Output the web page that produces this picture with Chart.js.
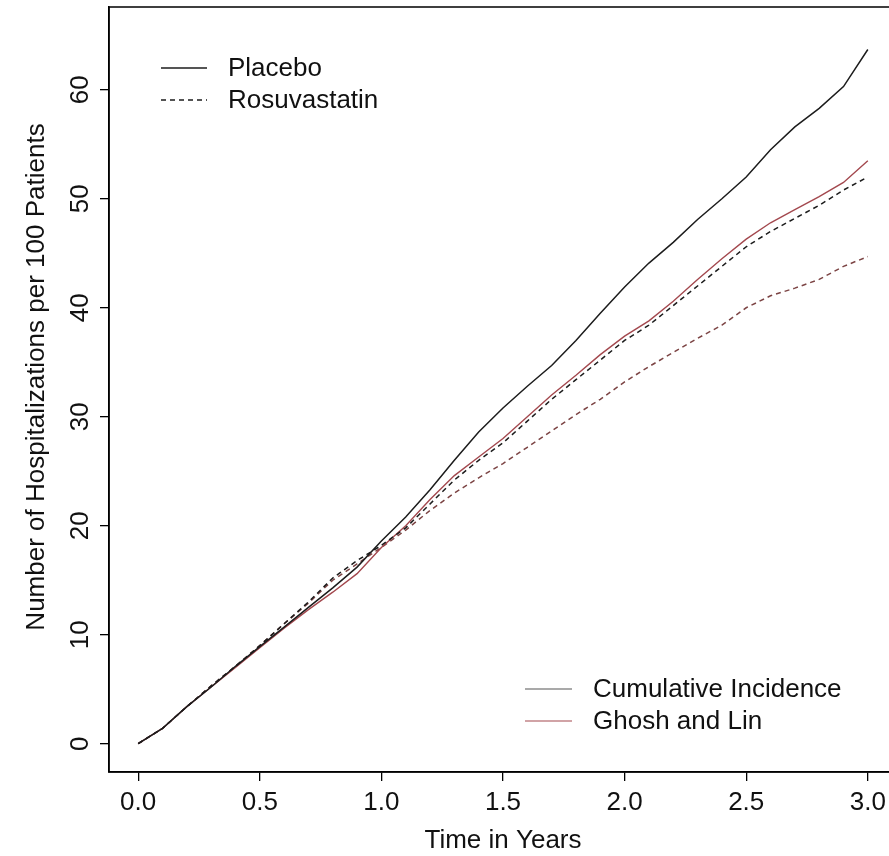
<!DOCTYPE html>
<html>
<head>
<meta charset="utf-8">
<script src="https://cdn.jsdelivr.net/npm/chart.js@4"></script>
<style>
  html, body { margin: 0; padding: 0; background: #fff; overflow: hidden; }
  #wrap { width: 910px; height: 856px; }
</style>
</head>
<body>
<div id="wrap"><canvas id="hospChart" width="910" height="856"></canvas></div>
<script>
// years since randomisation
const years = [0.0, 0.1, 0.2, 0.3, 0.4, 0.5, 0.6, 0.7, 0.8, 0.9, 1.0,
  1.1, 1.2, 1.3, 1.4, 1.5, 1.6, 1.7, 1.8, 1.9, 2.0,
  2.1, 2.2, 2.3, 2.4, 2.5, 2.6, 2.7, 2.8, 2.9, 3.0];

// cumulative incidence
const placeboCI = [0, 1.4, 3.4, 5.2, 7.1, 8.9, 10.7, 12.5, 14.3, 16.2, 18.6,
  20.8, 23.3, 26.0, 28.6, 30.8, 32.8, 34.7, 37.0, 39.5, 41.9,
  44.1, 46.0, 48.1, 50.0, 52.0, 54.5, 56.6, 58.3, 60.3, 63.7];
const rosuvaCI = [0, 1.4, 3.4, 5.3, 7.1, 9.0, 11.0, 13.0, 15.2, 16.8, 18.2,
  19.8, 22.0, 24.2, 26.0, 27.6, 29.6, 31.6, 33.4, 35.2, 37.0,
  38.4, 40.2, 42.0, 43.8, 45.6, 47.0, 48.2, 49.4, 50.8, 52.0];

// Ghosh and Lin
const placeboGL = [0, 1.4, 3.4, 5.2, 7.0, 8.8, 10.6, 12.3, 13.9, 15.6, 18.0,
  20.0, 22.4, 24.6, 26.3, 28.0, 30.0, 32.0, 33.8, 35.7, 37.4,
  38.8, 40.6, 42.6, 44.5, 46.3, 47.8, 49.0, 50.2, 51.5, 53.5];
const rosuvaGL = [0, 1.4, 3.4, 5.3, 7.1, 9.0, 11.0, 12.9, 15.0, 16.5, 18.0,
  19.6, 21.4, 23.0, 24.4, 25.7, 27.2, 28.7, 30.2, 31.6, 33.2,
  34.6, 35.9, 37.2, 38.4, 40.0, 41.1, 41.8, 42.6, 43.8, 44.7];

const xTicks = [0, 0.5, 1.0, 1.5, 2.0, 2.5, 3.0];
const yTicks = [0, 10, 20, 30, 40, 50, 60];

const groupLegend = ['Placebo', 'Rosuvastatin'];
const methodLegend = ['Cumulative Incidence', 'Ghosh and Lin'];
const yTitle = 'Number of Hospitalizations per 100 Patients';

const BLACK = '#1c1c1c';
const RED = '#a3484e';
const RED_DK = '#7c4444';
const DASH = [5, 4];
const FONT = '"Liberation Sans", Arial, sans-serif';

function pts(ys) {
  return years.map((x, i) => ({ x: x, y: ys[i] }));
}

// box around the plot region, y title, and the two legends
const extras = {
  id: 'extras',
  afterDraw(chart) {
    const { ctx, chartArea: a } = chart;
    ctx.save();
    ctx.strokeStyle = '#000';
    ctx.lineWidth = 1.5;
    ctx.setLineDash([]);
    ctx.strokeRect(a.left, a.top, a.right - a.left, a.bottom - a.top);

    ctx.fillStyle = '#111';
    ctx.font = '26px ' + FONT;
    ctx.textBaseline = 'middle';

    // y axis title (rotated)
    ctx.save();
    ctx.translate(37, 377);
    ctx.rotate(-Math.PI / 2);
    ctx.textAlign = 'center';
    ctx.fillText(yTitle, 0, 0);
    ctx.restore();

    // line type legend
    const rows1 = [68, 100];
    groupLegend.forEach((txt, i) => {
      ctx.beginPath();
      ctx.lineWidth = 1.5;
      ctx.strokeStyle = BLACK;
      ctx.setLineDash(i === 0 ? [] : DASH);
      ctx.moveTo(161, rows1[i]);
      ctx.lineTo(207, rows1[i]);
      ctx.stroke();
      ctx.fillText(txt, 228, rows1[i] + 1);
    });

    // method legend
    const rows2 = [689, 721];
    const cols = ['#555', RED];
    ctx.setLineDash([]);
    methodLegend.forEach((txt, i) => {
      ctx.beginPath();
      ctx.lineWidth = 1.2;
      ctx.strokeStyle = cols[i];
      ctx.moveTo(525, rows2[i]);
      ctx.lineTo(572, rows2[i]);
      ctx.stroke();
      ctx.fillText(txt, 593, rows2[i] + 1);
    });
    ctx.restore();
  }
};

const ctx = document.getElementById('hospChart').getContext('2d');
new Chart(ctx, {
  type: 'line',
  data: {
    datasets: [
      { label: 'Placebo, cumulative incidence', data: pts(placeboCI), borderColor: BLACK, borderWidth: 1.5 },
      { label: 'Rosuvastatin, cumulative incidence', data: pts(rosuvaCI), borderColor: BLACK, borderWidth: 1.5, borderDash: DASH },
      { label: 'Placebo, Ghosh and Lin', data: pts(placeboGL), borderColor: RED, borderWidth: 1.4 },
      { label: 'Rosuvastatin, Ghosh and Lin', data: pts(rosuvaGL), borderColor: RED_DK, borderWidth: 1.5, borderDash: DASH }
    ]
  },
  options: {
    responsive: false,
    animation: false,
    layout: { padding: { top: 7, right: 13, left: 0, bottom: 0 } },
    elements: { point: { radius: 0 }, line: { tension: 0, fill: false } },
    plugins: { legend: { display: false }, tooltip: { enabled: false } },
    scales: {
      x: {
        type: 'linear',
        min: -0.12,
        max: 3.12,
        afterFit(scale) { scale.height = 84; scale.paddingLeft = 0; scale.paddingRight = 0; },
        afterBuildTicks(scale) { scale.ticks = xTicks.map(v => ({ value: v })); },
        border: { display: true, color: '#000', width: 1.5 },
        grid: { drawOnChartArea: false, drawTicks: true, tickLength: 9, color: '#000', lineWidth: 1.3 },
        ticks: {
          autoSkip: false, maxRotation: 0, padding: 6, color: '#111',
          font: { family: FONT, size: 26 },
          callback: v => Number(v).toFixed(1)
        },
        title: {
          display: true, text: 'Time in Years', color: '#111',
          font: { family: FONT, size: 26 }, padding: { top: 0, bottom: 0 }
        }
      },
      y: {
        type: 'linear',
        min: -2.6,
        max: 67.6,
        afterFit(scale) { scale.width = 109; scale.paddingTop = 0; scale.paddingBottom = 0; },
        afterBuildTicks(scale) { scale.ticks = yTicks.map(v => ({ value: v })); },
        border: { display: true, color: '#000', width: 1.5 },
        grid: { drawOnChartArea: false, drawTicks: true, tickLength: 9, color: '#000', lineWidth: 1.3 },
        ticks: {
          autoSkip: false, minRotation: 90, maxRotation: 90, crossAlign: 'center',
          padding: 5, color: '#111',
          font: { family: FONT, size: 26 }
        }
      }
    }
  },
  plugins: [extras]
});
</script>
</body>
</html>
